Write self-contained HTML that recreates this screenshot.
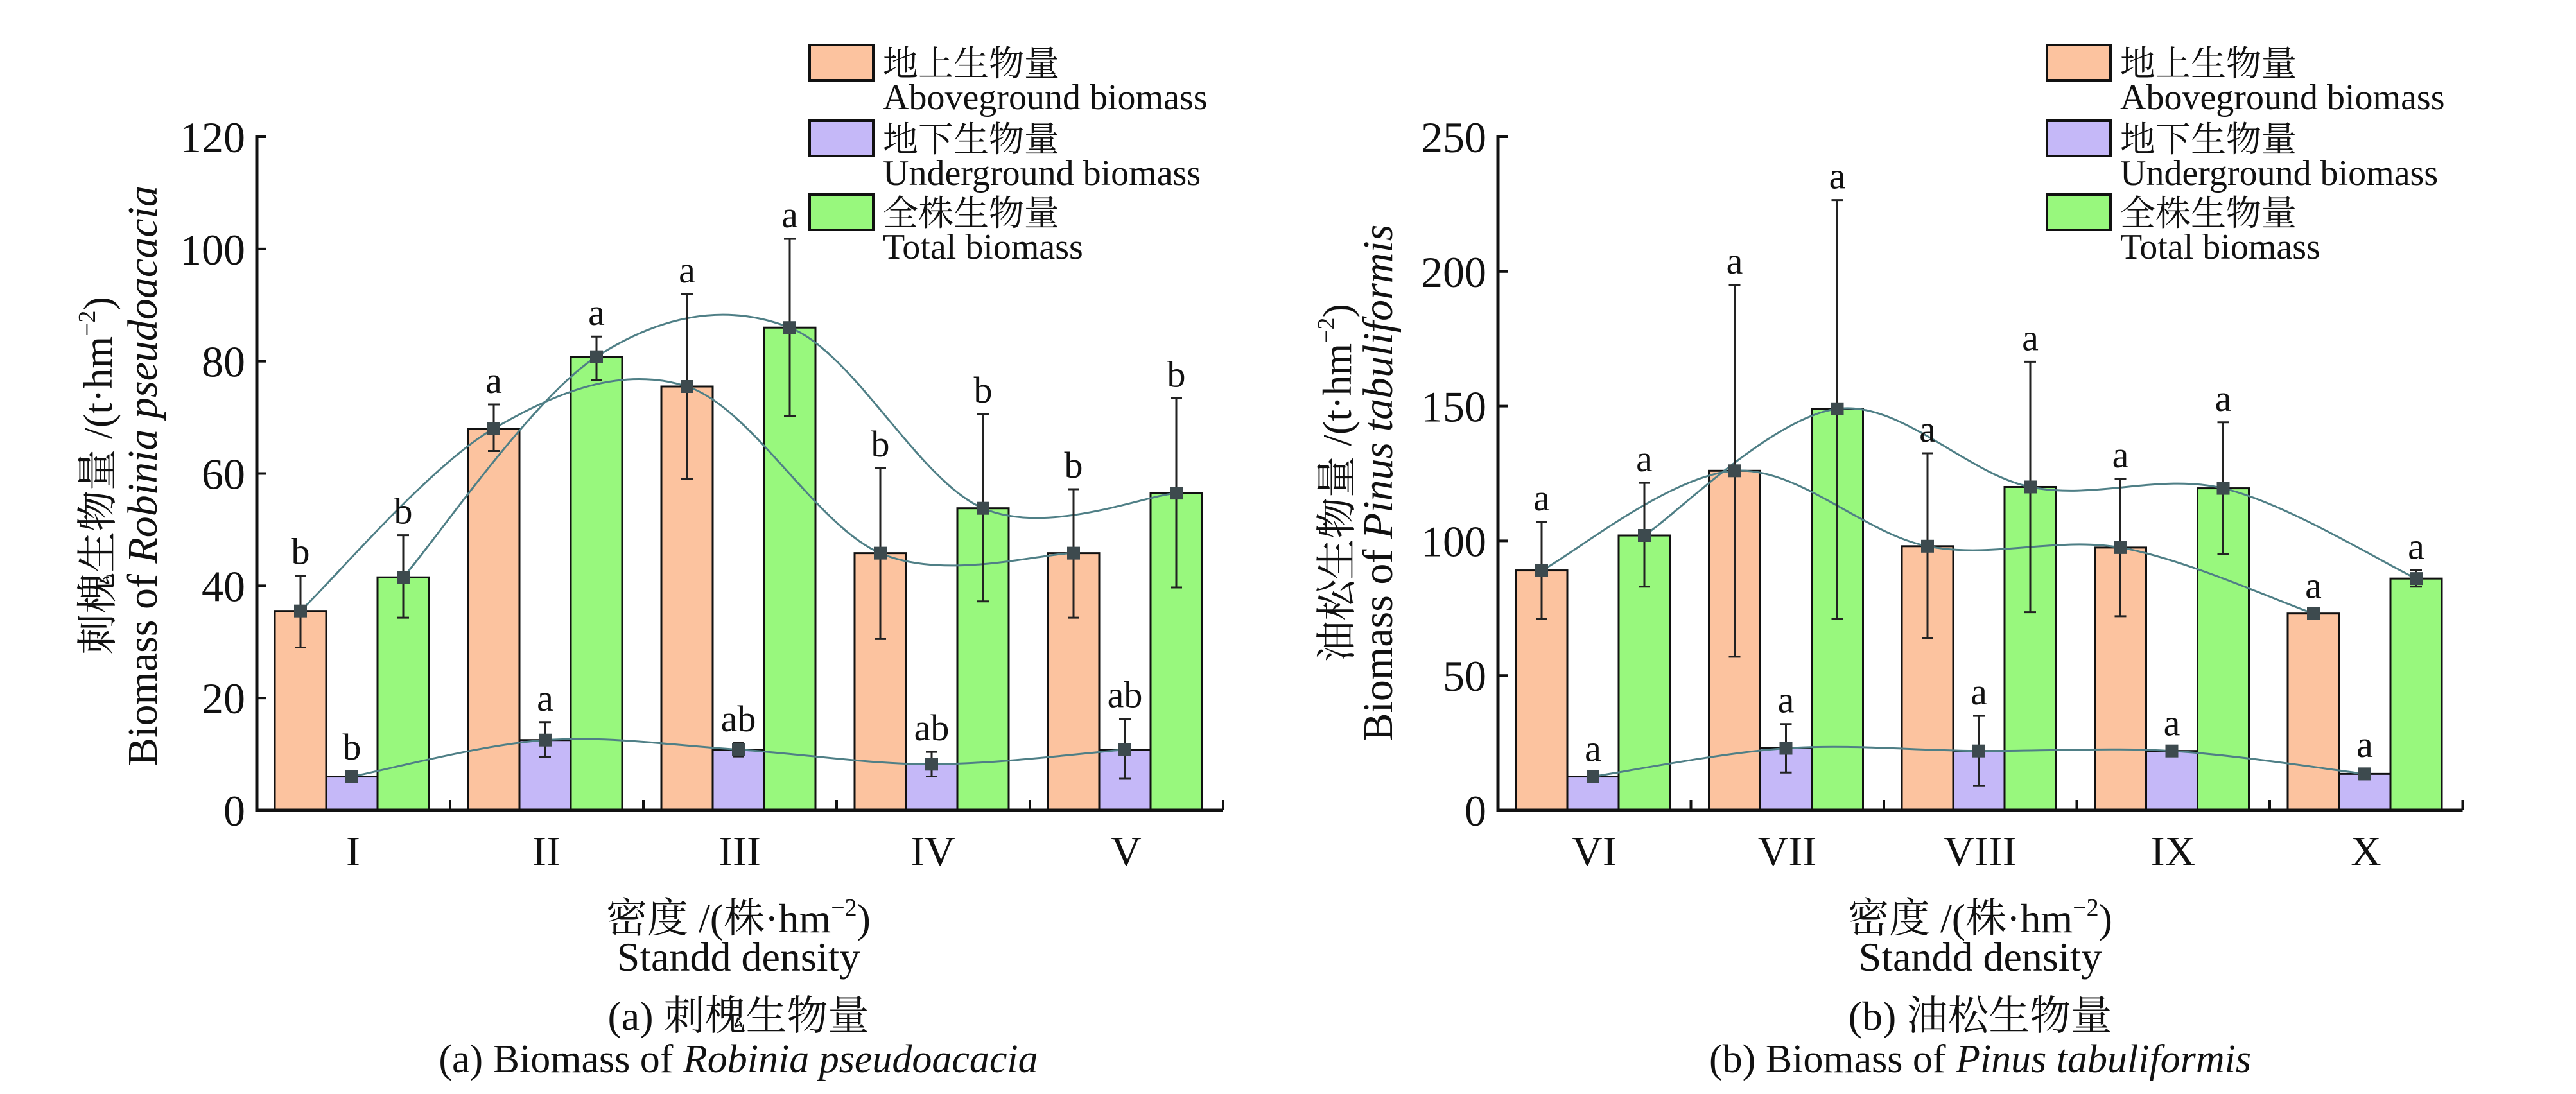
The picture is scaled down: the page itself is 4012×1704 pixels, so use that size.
<!DOCTYPE html>
<html><head><meta charset="utf-8"><style>
html,body{margin:0;padding:0;background:#fff;}
svg text{font-family:"Liberation Serif","Noto Serif CJK SC","Noto Sans CJK SC",serif;fill:#111;}
</style></head><body>
<svg id="s" xmlns="http://www.w3.org/2000/svg" width="4012" height="1699" viewBox="0 0 4012 1699"></svg>
<script>
const S=document.getElementById('s');let h='';
const C={o:'#fcc39f',p:'#c5b8f8',g:'#98f87d'};
function chart(cfg){
 const ax=cfg.ax, y0=1262, ytop=213, max=cfg.max;
 const Y=v=>y0-(y0-ytop)*v/max;
 const sp=cfg.sp, end=ax+5*sp;
 const ser=[['o',cfg.A],['p',cfg.U],['g',cfg.T]];
 const off={o:28,p:108,g:188};
 ser.forEach(([k,d])=>{d.forEach((r,i)=>{const L=ax+i*sp+off[k];
  h+=`<rect x="${L}" y="${Y(r[0])}" width="80" height="${y0-Y(r[0])}" fill="${C[k]}" stroke="#111" stroke-width="3"/>`;});});
 ser.forEach(([k,d])=>{const pts=d.map((r,i)=>[ax+i*sp+off[k]+40,Y(r[0])]);
  let p=`M${pts[0][0]},${pts[0][1]}`;
  for(let i=0;i<pts.length-1;i++){const p0=pts[Math.max(0,i-1)],p1=pts[i],p2=pts[i+1],p3=pts[Math.min(pts.length-1,i+2)];
   const c1=[p1[0]+(p2[0]-p0[0])/6,p1[1]+(p2[1]-p0[1])/6],c2=[p2[0]-(p3[0]-p1[0])/6,p2[1]-(p3[1]-p1[1])/6];
   p+=` C${c1[0]},${c1[1]} ${c2[0]},${c2[1]} ${p2[0]},${p2[1]}`;}
  h+=`<path d="${p}" fill="none" stroke="#4f7f86" stroke-width="3"/>`;});
 ser.forEach(([k,d])=>{d.forEach((r,i)=>{const x=ax+i*sp+off[k]+40;
  h+=`<line x1="${x}" y1="${Y(r[1])}" x2="${x}" y2="${Y(r[2])}" stroke="#222" stroke-width="3"/>`;
  h+=`<line x1="${x-9}" y1="${Y(r[1])}" x2="${x+9}" y2="${Y(r[1])}" stroke="#222" stroke-width="3"/>`;
  h+=`<line x1="${x-9}" y1="${Y(r[2])}" x2="${x+9}" y2="${Y(r[2])}" stroke="#222" stroke-width="3"/>`;
  h+=`<rect x="${x-10}" y="${Y(r[0])-10}" width="20" height="20" fill="#3d4a4e"/>`;
  h+=`<text x="${x}" y="${Y(r[2])-18}" font-size="58" text-anchor="middle">${r[3]}</text>`;});});
 h+=`<line x1="${ax}" y1="${ytop-3}" x2="${ax}" y2="${y0+2}" stroke="#111" stroke-width="5"/>`;
 h+=`<line x1="${ax-2}" y1="${y0}" x2="${end}" y2="${y0}" stroke="#111" stroke-width="5"/>`;
 for(let i=1;i<=5;i++){const x=ax+i*sp;h+=`<line x1="${x}" y1="${y0}" x2="${x}" y2="${y0-16}" stroke="#111" stroke-width="4"/>`;}
 for(let j=0;j<=6;j++){const v=cfg.step*j;if(v>max)break;const y=Y(v);
  if(j>0)h+=`<line x1="${ax}" y1="${y}" x2="${ax+15}" y2="${y}" stroke="#111" stroke-width="4"/>`;
  h+=`<text x="${ax-18}" y="${y+24}" font-size="68" text-anchor="end">${v}</text>`;}
 cfg.cats.forEach((c,i)=>{h+=`<text x="${ax+i*sp+150}" y="1348" font-size="66" text-anchor="middle">${c}</text>`;});
 const lx=cfg.lx;[['o','地上生物量','Aboveground biomass',70],['p','地下生物量','Underground biomass',188],['g','全株生物量','Total biomass',303]].forEach(([k,cn,en,y])=>{
  h+=`<rect x="${lx}" y="${y}" width="99" height="55" fill="${C[k]}" stroke="#111" stroke-width="4"/>`;
  h+=`<text x="${lx+114}" y="${y+48}" font-size="55">${cn}</text>`;
  h+=`<text x="${lx+114}" y="${y+100}" font-size="56">${en}</text>`;});
 const cx=cfg.cx;
 h+=`<text x="${cx}" y="1452" font-size="64" text-anchor="middle">密度 /(株·hm<tspan font-size="38" dy="-26">−2</tspan><tspan dy="26">)</tspan></text>`;
 h+=`<text x="${cx}" y="1512" font-size="64" text-anchor="middle">Standd density</text>`;
 h+=`<text x="${cx}" y="1604" font-size="64" text-anchor="middle">${cfg.t1}</text>`;
 h+=`<text x="${cx}" y="1670" font-size="62" text-anchor="middle">${cfg.t2}</text>`;
 h+=`<text transform="translate(${cfg.yx1},${cfg.yc}) rotate(-90)" font-size="64" text-anchor="middle">${cfg.y1}/(t·hm<tspan font-size="38" dy="-26">−2</tspan><tspan dy="26">)</tspan></text>`;
 h+=`<text transform="translate(${cfg.yx2},${cfg.yc}) rotate(-90)" font-size="66" text-anchor="middle">${cfg.y2}</text>`;
}
chart({ax:400,sp:301,max:120,step:20,lx:1261,cx:1150,yx1:174,yx2:244,yc:741,
 cats:['I','II','III','IV','V'],
 A:[[35.5,29,41.8,'b'],[68,64,72.3,'a'],[75.5,59,92,'a'],[45.8,30.5,61,'b'],[45.8,34.3,57.2,'b']],
 U:[[6,5,7,'b'],[12.5,9.5,15.7,'a'],[10.8,9.6,12,'ab'],[8.2,6,10.4,'ab'],[10.8,5.6,16.3,'ab']],
 T:[[41.5,34.3,49,'b'],[80.8,76.6,84.4,'a'],[86,70.3,101.8,'a'],[53.8,37.2,70.6,'b'],[56.5,39.7,73.4,'b']],
 t1:'(a) 刺槐生物量',t2:'(a) Biomass of <tspan font-style="italic">Robinia pseudoacacia</tspan>',
 y1:'刺槐生物量 ',y2:'Biomass of <tspan font-style="italic">Robinia pseudoacacia</tspan>'});
chart({ax:2333,sp:300.5,max:250,step:50,lx:3188,cx:3084,yx1:2104,yx2:2168,yc:752,
 cats:['VI','VII','VIII','IX','X'],
 A:[[89,71,107,'a'],[126,57,195,'a'],[98,64,132.5,'a'],[97.5,72,123,'a'],[73,71.5,74.5,'a']],
 U:[[12.5,11,14,'a'],[23,14,32,'a'],[22,9,35,'a'],[22,20.5,23.5,'a'],[13.5,11.5,15.5,'a']],
 T:[[102,83,121.5,'a'],[149,71,226.5,'a'],[120,73.5,166.5,'a'],[119.5,95,144,'a'],[86,83,89,'a']],
 t1:'(b) 油松生物量',t2:'(b) Biomass of <tspan font-style="italic">Pinus tabuliformis</tspan>',
 y1:'油松生物量 ',y2:'Biomass of <tspan font-style="italic">Pinus tabuliformis</tspan>'});
S.innerHTML=h;
</script>
</body></html>
